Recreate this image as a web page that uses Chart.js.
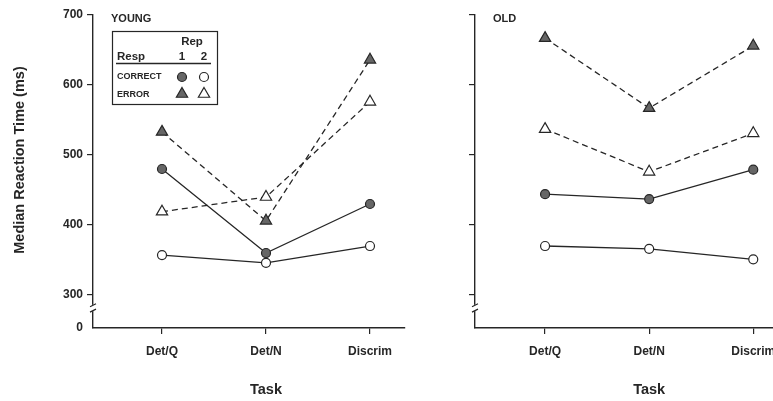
<!DOCTYPE html>
<html>
<head>
<meta charset="utf-8">
<script src="https://cdn.jsdelivr.net/npm/chart.js@4/dist/chart.umd.min.js"></script>
<style>
  html, body { margin: 0; padding: 0; background: #fff; overflow: hidden; }
  body { width: 773px; height: 401px; position: relative; }
  canvas { position: absolute; top: 0; }
  #young { left: 0; }
  #old { left: 440px; }
</style>
</head>
<body>
<canvas id="young" width="440" height="401"></canvas>
<canvas id="old" width="368" height="401"></canvas>
<script>
// tasks on the x axis
const tasks = ['Det/Q', 'Det/N', 'Discrim'];
const yTicks = [300, 400, 500, 600, 700];

// YOUNG panel, median RT (ms)
const youngCorrect1 = [480, 360, 430];
const youngCorrect2 = [357, 346, 370];
const youngError1 = [533, 406, 636];
const youngError2 = [419, 440, 576];

// OLD panel
const oldCorrect1 = [444, 437, 479];
const oldCorrect2 = [370, 366, 351];
const oldError1 = [667, 567, 656];
const oldError2 = [537, 476, 531];

const ink = '#262626';
const fillGray = '#666';
const FONT = "'Liberation Sans', Arial, Helvetica, sans-serif";
const yMin = 252.9; // bottom of the broken axis, labelled "0"

const pts = arr => arr.map((v, i) => ({x: i, y: v}));

const series = (c1, c2, e1, e2) => [
  {data: pts(c1), borderColor: ink, backgroundColor: fillGray, pointStyle: 'circle', pointRadius: 4.5, borderDash: []},
  {data: pts(c2), borderColor: ink, backgroundColor: '#fff', pointStyle: 'circle', pointRadius: 4.5, borderDash: []},
  {data: pts(e1), borderColor: ink, backgroundColor: fillGray, pointStyle: 'triangle', pointRadius: 6.5, borderDash: [6, 4]},
  {data: pts(e2), borderColor: ink, backgroundColor: '#fff', pointStyle: 'triangle', pointRadius: 6.5, borderDash: [6, 4]},
].map(d => Object.assign(d, {
  borderWidth: 1.3, pointBorderWidth: 1.2, pointBorderColor: ink, pointBackgroundColor: d.backgroundColor,
  tension: 0, fill: false, clip: false
}));

const decor = {
  id: 'decor',
  afterDraw(chart, args, opts) {
    const ctx = chart.ctx;
    const xs = chart.scales.x, ys = chart.scales.y;
    ctx.save();
    // axis break
    const ax = xs.left;
    const b1 = ys.getPixelForValue(286), b2 = ys.getPixelForValue(277);
    ctx.fillStyle = '#fff';
    ctx.fillRect(ax - 3, b1, 6, b2 - b1);
    ctx.strokeStyle = ink;
    ctx.lineWidth = 1.2;
    ctx.beginPath();
    ctx.moveTo(ax - 3, b1 + 2); ctx.lineTo(ax + 3, b1 - 1);
    ctx.moveTo(ax - 3, b2 + 1); ctx.lineTo(ax + 3, b2 - 2);
    ctx.stroke();

    ctx.fillStyle = ink;
    // panel name
    ctx.font = 'bold 11px ' + FONT;
    ctx.textBaseline = 'middle';
    ctx.textAlign = 'left';
    ctx.fillText(opts.panel, ax + 18, 19);

    // x title under Det/N
    ctx.font = 'bold 14.5px ' + FONT;
    ctx.textAlign = 'center';
    ctx.fillText('Task', xs.getPixelForValue(1), 390);

    if (opts.yTitle) {
      ctx.save();
      ctx.translate(20, 160);
      ctx.rotate(-Math.PI / 2);
      ctx.fillText(opts.yTitle, 0, 0);
      ctx.restore();
    }

    if (opts.legend) {
      ctx.lineWidth = 1.2;
      ctx.strokeRect(112.5, 31.5, 105, 73);
      ctx.font = 'bold 11.5px ' + FONT;
      ctx.textAlign = 'center';
      ctx.fillText('Rep', 192, 42);
      ctx.fillText('1', 182, 57);
      ctx.fillText('2', 204, 57);
      ctx.textAlign = 'left';
      ctx.fillText('Resp', 117, 57);
      ctx.lineWidth = 1.5;
      ctx.beginPath();
      ctx.moveTo(116, 63.5); ctx.lineTo(211, 63.5);
      ctx.stroke();
      ctx.font = 'bold 9px ' + FONT;
      ctx.fillText('CORRECT', 117, 77);
      ctx.fillText('ERROR', 117, 95);
      ctx.lineWidth = 1.2;
      const mark = (style, r, x, y, filled) => {
        ctx.fillStyle = filled ? fillGray : '#fff';
        ctx.strokeStyle = ink;
        Chart.helpers.drawPoint(ctx, {pointStyle: style, radius: r, rotation: 0, borderWidth: 1.2}, x, y);
      };
      mark('circle', 4.5, 182, 77, true);
      mark('circle', 4.5, 204, 77, false);
      mark('triangle', 6.5, 182, 94, true);
      mark('triangle', 6.5, 204, 94, false);
    }
    ctx.restore();
  }
};

const makeChart = (id, data, cfg) => new Chart(document.getElementById(id), {
  type: 'line',
  data: {datasets: data},
  plugins: [decor],
  options: {
    responsive: false,
    animation: false,
    events: [],
    layout: {padding: {top: 15, right: cfg.padRight, bottom: 0, left: 0}},
    plugins: {
      legend: {display: false},
      tooltip: {enabled: false},
      decor: {panel: cfg.panel, legend: cfg.legend, yTitle: cfg.yTitle}
    },
    scales: {
      x: {
        type: 'linear',
        min: cfg.xMin, max: cfg.xMax,
        afterBuildTicks: s => { s.ticks = tasks.map((t, i) => ({value: i})); },
        afterFit: s => { s.height = 73; },
        grid: {drawOnChartArea: false, drawTicks: true, tickLength: 6, color: ink, lineWidth: 1.2},
        border: {display: true, color: ink, width: 1.4},
        ticks: {
          padding: 10, color: ink, maxRotation: 0, autoSkip: false,
          font: {family: FONT, size: 12, weight: 'bold'},
          callback: v => tasks[v]
        }
      },
      y: {
        min: yMin, max: 700,
        afterBuildTicks: s => { s.ticks = [yMin, ...yTicks].map(v => ({value: v})); },
        afterFit: s => { s.width = cfg.yWidth; },
        grid: {
          drawOnChartArea: false, drawTicks: true, tickLength: 6, lineWidth: 1.2,
          color: ink,
          tickColor: c => (c.tick && c.tick.value < 300) ? 'rgba(0,0,0,0)' : ink
        },
        border: {display: true, color: ink, width: 1.4},
        ticks: {
          display: cfg.yLabels, padding: 4, color: ink,
          font: {family: FONT, size: 12, weight: 'bold'},
          callback: v => v < 300 ? '0' : String(v)
        }
      }
    }
  }
});

makeChart('young', series(youngCorrect1, youngCorrect2, youngError1, youngError2), {
  panel: 'YOUNG', legend: true, yTitle: 'Median Reaction Time (ms)',
  xMin: -69 / 104, xMax: 2 + 35 / 104, padRight: 35, yWidth: 93, yLabels: true
});

makeChart('old', series(oldCorrect1, oldCorrect2, oldError1, oldError2), {
  panel: 'OLD', legend: false, yTitle: null,
  xMin: -70 / 104, xMax: 2 + 47 / 104, padRight: 0, yWidth: 35, yLabels: false
});
</script>
</body>
</html>
